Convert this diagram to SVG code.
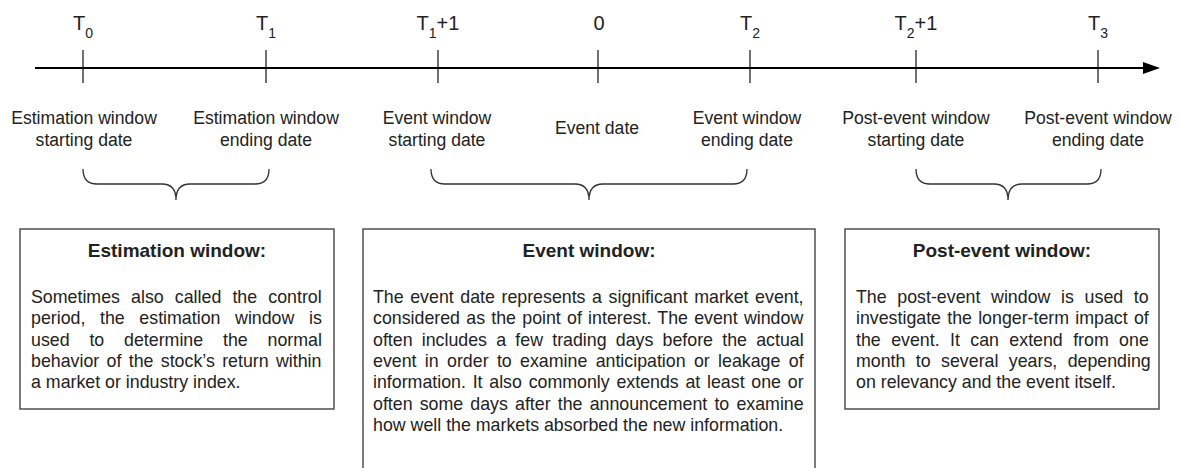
<svg xmlns="http://www.w3.org/2000/svg" width="1181" height="468" viewBox="0 0 1181 468">
  <style>
    text { font-family: "Liberation Sans", Arial, sans-serif; fill: #222; }
    .tick-label { font-size: 20px; text-anchor: middle; }
    .sub { font-size: 14px; }
    .date { font-size: 17.6px; text-anchor: middle; }
    .title { font-size: 19px; font-weight: bold; text-anchor: middle; }
    .body { font-size: 17.8px; }
    .tick { stroke: #111; stroke-width: 1.2; }
    .brace { fill: none; stroke: #333; stroke-width: 1.3; }
    .box { fill: #fff; stroke: #444; stroke-width: 1.4; }
  </style>
  <defs>
    <marker id="arrow" markerUnits="userSpaceOnUse" markerWidth="18" markerHeight="14" refX="0" refY="7" orient="auto">
      <path d="M0,1 L17,7 L0,13 Z" fill="#000"/>
    </marker>
  </defs>

  <!-- time axis -->
  <g id="axis">
    <line x1="35" y1="68" x2="1143" y2="68" stroke="#000" stroke-width="2" marker-end="url(#arrow)"/>
  </g>

  <!-- tick marks with their dates -->
  <g id="tick-T0">
    <line class="tick" x1="83" y1="50" x2="83" y2="83"/>
    <text class="tick-label" x="83" y="30">T<tspan class="sub" dy="8">0</tspan></text>
    <text class="date" x="84" y="124">Estimation window</text>
    <text class="date" x="84" y="146">starting date</text>
  </g>
  <g id="tick-T1">
    <line class="tick" x1="266" y1="50" x2="266" y2="83"/>
    <text class="tick-label" x="266" y="30">T<tspan class="sub" dy="8">1</tspan></text>
    <text class="date" x="266" y="124">Estimation window</text>
    <text class="date" x="266" y="146">ending date</text>
  </g>
  <g id="tick-T1plus1">
    <line class="tick" x1="438" y1="50" x2="438" y2="83"/>
    <text class="tick-label" x="438" y="30">T<tspan class="sub" dy="8">1</tspan><tspan dy="-8">+1</tspan></text>
    <text class="date" x="437" y="124">Event window</text>
    <text class="date" x="437" y="146">starting date</text>
  </g>
  <g id="tick-0">
    <line class="tick" x1="598" y1="50" x2="598" y2="83"/>
    <text class="tick-label" x="599" y="30">0</text>
    <text class="date" x="597" y="134">Event date</text>
  </g>
  <g id="tick-T2">
    <line class="tick" x1="750" y1="50" x2="750" y2="83"/>
    <text class="tick-label" x="750" y="30">T<tspan class="sub" dy="8">2</tspan></text>
    <text class="date" x="747" y="124">Event window</text>
    <text class="date" x="747" y="146">ending date</text>
  </g>
  <g id="tick-T2plus1">
    <line class="tick" x1="916" y1="50" x2="916" y2="83"/>
    <text class="tick-label" x="916" y="30">T<tspan class="sub" dy="8">2</tspan><tspan dy="-8">+1</tspan></text>
    <text class="date" x="916" y="124">Post-event window</text>
    <text class="date" x="916" y="146">starting date</text>
  </g>
  <g id="tick-T3">
    <line class="tick" x1="1098" y1="50" x2="1098" y2="83"/>
    <text class="tick-label" x="1098" y="30">T<tspan class="sub" dy="8">3</tspan></text>
    <text class="date" x="1098" y="124">Post-event window</text>
    <text class="date" x="1098" y="146">ending date</text>
  </g>

  <!-- braces grouping the dates into windows -->
  <g id="connectors">
    <path class="brace" d="M83,169 C83,178 87,184 97,184 L162,184 C171,184 176,189 176,200 C176,189 181,184 190,184 L255,184 C265,184 269,178 269,169"/>
    <path class="brace" d="M431,169 C431,178 435,184 445,184 L575,184 C584,184 589,189 589,200 C589,189 594,184 603,184 L733,184 C743,184 747,178 747,169"/>
    <path class="brace" d="M916,169 C916,178 920,184 930,184 L994,184 C1003,184 1008,189 1008,200 C1008,189 1013,184 1022,184 L1087,184 C1097,184 1101,178 1101,169"/>
  </g>

  <!-- description boxes -->
  <g id="estimation-window">
    <rect class="box" x="20" y="229" width="314" height="180"/>
    <text class="title" x="177" y="257">Estimation window:</text>
    <text class="body" x="31" y="303" word-spacing="6.2">Sometimes also called the control</text>
    <text class="body" x="31" y="324.3" word-spacing="9.7">period, the estimation window is</text>
    <text class="body" x="31" y="345.6" word-spacing="14.9">used to determine the normal</text>
    <text class="body" x="31" y="366.9" word-spacing="2.4">behavior of the stock’s return within</text>
    <text class="body" x="31" y="388.2">a market or industry index.</text>
  </g>

  <g id="event-window">
    <rect class="box" x="363" y="229" width="452" height="260"/>
    <text class="title" x="589" y="257">Event window:</text>
    <text class="body" x="373" y="303" word-spacing="1.64">The event date represents a significant market event,</text>
    <text class="body" x="373" y="324.3" word-spacing="1.31">considered as the point of interest. The event window</text>
    <text class="body" x="373" y="345.6" word-spacing="4.28">often includes a few trading days before the actual</text>
    <text class="body" x="373" y="366.9" word-spacing="3.41">event in order to examine anticipation or leakage of</text>
    <text class="body" x="373" y="388.2" word-spacing="1.81">information. It also commonly extends at least one or</text>
    <text class="body" x="373" y="409.5" word-spacing="2.21">often some days after the announcement to examine</text>
    <text class="body" x="373" y="430.8">how well the markets absorbed the new information.</text>
  </g>

  <g id="post-event-window">
    <rect class="box" x="845" y="229" width="314" height="180"/>
    <text class="title" x="1002" y="257">Post-event window:</text>
    <text class="body" x="856" y="303" word-spacing="5.76">The post-event window is used to</text>
    <text class="body" x="856" y="324.3" word-spacing="1.28">investigate the longer-term impact of</text>
    <text class="body" x="856" y="345.6" word-spacing="5.47">the event. It can extend from one</text>
    <text class="body" x="856" y="366.9" word-spacing="5.48">month to several years, depending</text>
    <text class="body" x="856" y="388.2">on relevancy and the event itself.</text>
  </g>
</svg>
